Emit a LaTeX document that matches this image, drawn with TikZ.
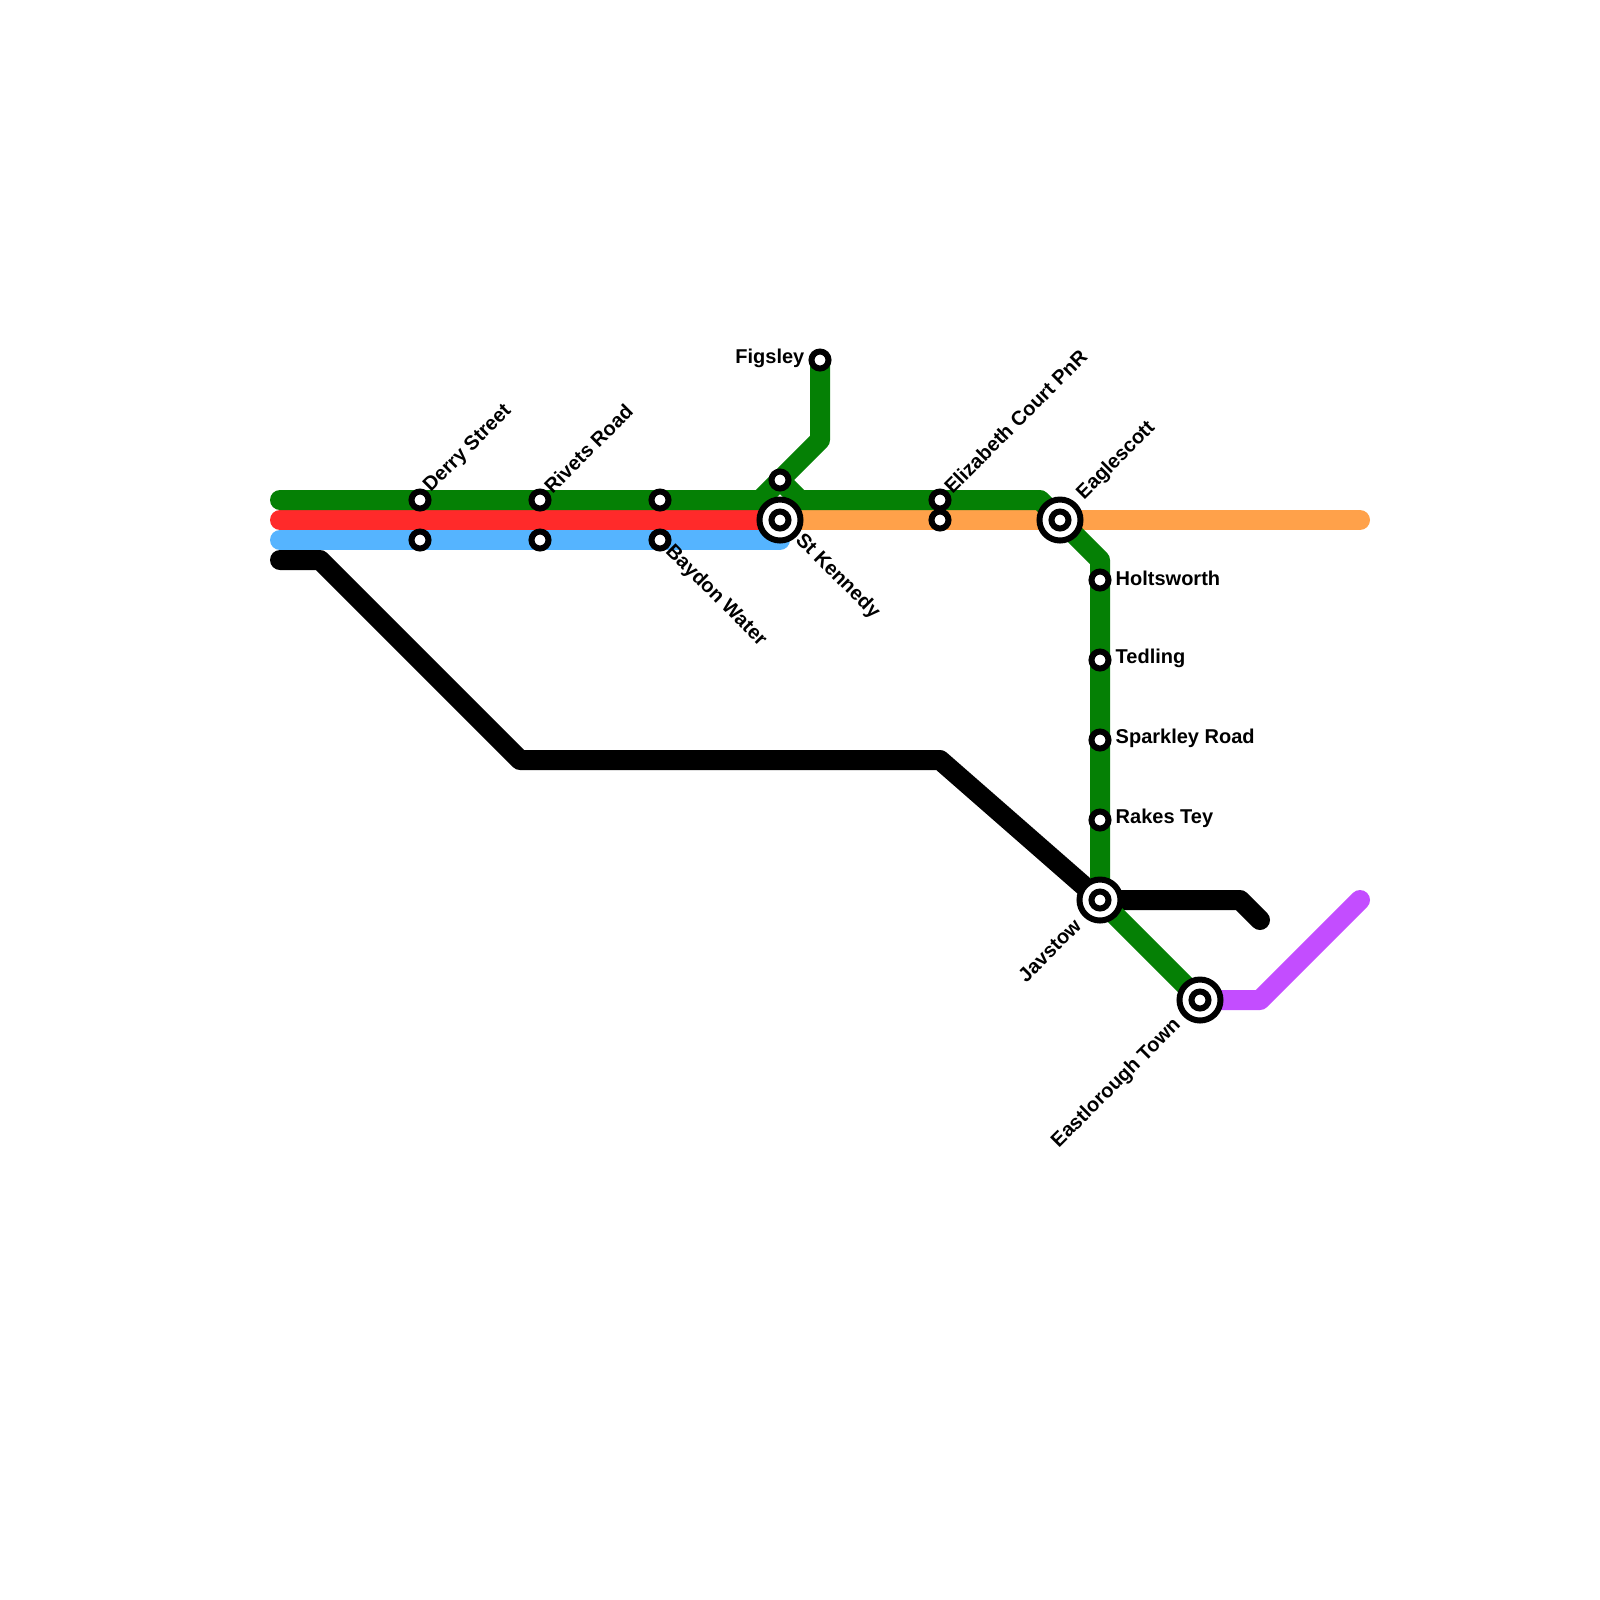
\documentclass[tikz,border=0pt]{standalone}
\usepackage{fontspec}
\setmainfont{Liberation Sans}
\usepackage{xcolor}
\usetikzlibrary{backgrounds}
\definecolor{LineGreen}{HTML}{058005}
\definecolor{LineRed}{HTML}{FF2A2A}
\definecolor{LineBlue}{HTML}{55B4FF}
\definecolor{LineOrange}{HTML}{FFA14A}
\definecolor{LinePurple}{HTML}{C34DFF}

\begin{document}
\begin{tikzpicture}[x=0.2cm, y=-0.2cm,
      route/.style={line width=0.2cm, line cap=round, line join=round},
      halt/.style={circle, draw=black, fill=white, line width=0.06cm, inner sep=0pt, minimum size=0.17cm},
      hub/.style={circle, draw=black, fill=white, line width=0.06cm, inner sep=0pt, minimum size=0.41cm,
                  path picture={\draw[black, line width=0.06cm] (path picture bounding box.center) circle (0.085cm);}},
      lbl/.style={font=\fontsize{5.69}{6.5}\selectfont\bfseries, inner sep=0pt}]
      \useasboundingbox (0,0) rectangle (80,80);

      % Stations on the trunk
      \node[halt] (derry) at (21,25) {};
      \node[halt] (derryb) at (21,27) {};
      \node[halt] (rivets) at (27,25) {};
      \node[halt] (rivetsb) at (27,27) {};
      \node[halt] (baydona) at (33,25) {};
      \node[halt] (baydon) at (33,27) {};
      \node[hub] (kennedy) at (39,26) {};
      \node[halt] (kennedyup) at (39,24) {};
      \node[halt] (figsley) at (41,18) {};
      \node[halt] (eliz) at (47,25) {};
      \node[halt] (elizb) at (47,26) {};
      \node[hub] (eagle) at (53,26) {};

      % Stations on the branch
      \node[halt] (holts) at (55,29) {};
      \node[halt] (tedling) at (55,33) {};
      \node[halt] (sparkley) at (55,37) {};
      \node[halt] (rakes) at (55,41) {};
      \node[hub] (javstow) at (55,45) {};
      \node[hub] (east) at (60,50) {};

      % Line ends and bends
      \coordinate (greenw) at (14,25);
      \coordinate (redw) at (14,26);
      \coordinate (bluew) at (14,27);
      \coordinate (bluee) at (39,27);
      \coordinate (blackw) at (14,28);
      \coordinate (blacka) at (16,28);
      \coordinate (blackb) at (26,38);
      \coordinate (blackc) at (47,38);
      \coordinate (blackd) at (62,45);
      \coordinate (blacke) at (63,46);
      \coordinate (greena) at (38,25);
      \coordinate (greenb) at (41,22);
      \coordinate (greenc) at (40,25);
      \coordinate (greend) at (52,25);
      \coordinate (greene) at (55,28);
      \coordinate (orangew) at (40,26);
      \coordinate (orangee) at (68,26);
      \coordinate (purplea) at (63,50);
      \coordinate (purpleb) at (68,45);

      % Lines
      \begin{pgfonlayer}{background}
        \draw[route, black] (blackw) -- (blacka) -- (blackb) -- (blackc) -- (javstow.center) -- (blackd) -- (blacke);
        \draw[route, LineBlue] (bluew) -- (bluee);
        \draw[route, LineRed] (redw) -- (kennedy.center);
        \draw[route, LineOrange] (orangew) -- (orangee);
        \draw[route, LinePurple] (east.center) -- (purplea) -- (purpleb);
        \draw[route, LineGreen] (greenw) -- (greena) -- (greenb) -- (figsley.center);
        \draw[route, LineGreen] (kennedyup.center) -- (greenc) -- (greend) -- (greene) -- (javstow.center) -- (east.center);
      \end{pgfonlayer}

      % Labels
      \node[lbl, rotate=45, anchor=west] (derrylbl) at (21.35,24.5) {Derry Street};
      \node[lbl, rotate=45, anchor=west] (rivetslbl) at (27.35,24.5) {Rivets Road};
      \node[lbl, rotate=-45, anchor=west] (baydonlbl) at (33.4,27.4) {Baydon Water};
      \node[lbl, rotate=-45, anchor=west] (kennedylbl) at (39.9,26.85) {St Kennedy};
      \node[lbl, anchor=east] (figsleylbl) at (40.25,17.9) {Figsley};
      \node[lbl, rotate=45, anchor=west] (elizlbl) at (47.35,24.5) {Elizabeth Court PnR};
      \node[lbl, rotate=45, anchor=west] (eaglelbl) at (54,24.85) {Eaglescott};
      \node[lbl, anchor=west] (holtslbl) at (55.75,28.9) {Holtsworth};
      \node[lbl, anchor=west] (tedlinglbl) at (55.75,32.9) {Tedling};
      \node[lbl, anchor=west] (sparkleylbl) at (55.75,36.9) {Sparkley Road};
      \node[lbl, anchor=west] (rakeslbl) at (55.75,40.9) {Rakes Tey};
      \node[lbl, rotate=45, anchor=east] (javstowlbl) at (53.9,46.1) {Javstow};
      \node[lbl, rotate=45, anchor=east] (eastlbl) at (58.9,51.1) {Eastlorough Town};
    \end{tikzpicture}
\end{document}
